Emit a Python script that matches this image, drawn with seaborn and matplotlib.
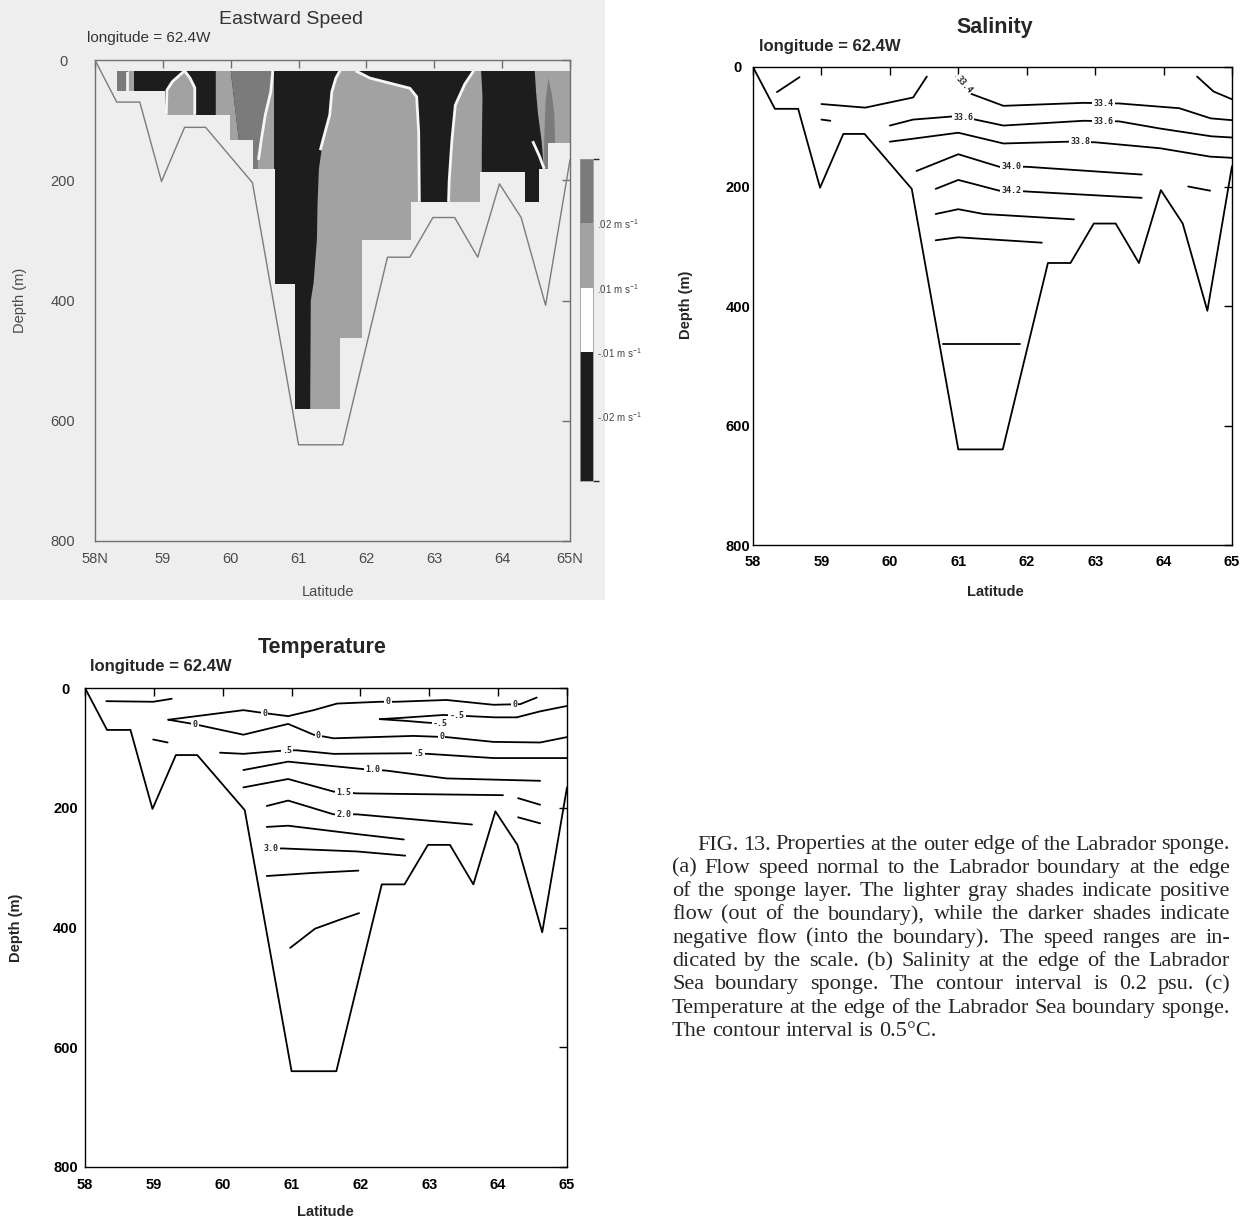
import numpy as np
import matplotlib
matplotlib.use("Agg")
import matplotlib.pyplot as plt
import seaborn as sns
from matplotlib.colors import ListedColormap, BoundaryNorm
from matplotlib.patches import Rectangle
import matplotlib.cm as cm

# ----------------------------------------------------------------- data
lat_ticks = [58, 59, 60, 61, 62, 63, 64, 65]
lat_labels_a = ["58N", "59", "60", "61", "62", "63", "64", "65N"]
lat_labels_bc = ["58", "59", "60", "61", "62", "63", "64", "65"]
depth_ticks = [0, 200, 400, 600, 800]

# bottom topography along the section
topo_lat = [58.0, 58.32, 58.66, 58.98, 59.32, 59.63, 60.32, 61.0, 61.65, 62.31,
            62.64, 62.98, 63.30, 63.64, 63.96, 64.28, 64.64, 65.0]
topo_depth = [0, 70, 70, 202, 112, 112, 204, 640, 640, 328,
              328, 262, 262, 328, 206, 262, 408, 166]

# model grid (staircase) that bounds the speed field
grid_top = 18
step_lat = [58.32, 59.03, 59.99, 60.33, 60.65, 60.95, 61.61, 61.93, 62.66,
            63.67, 64.33, 64.55, 64.68, 65.0]
step_bottom = [52, 91, 133, 181, 372, 580, 463, 299, 236, 186, 236, 181, 138]

# speed classes (m/s) and colour scale
speed_bounds = [-0.03, -0.02, -0.01, 0.01, 0.02, 0.03]
speed_colors = ["#1d1d1d", "#1d1d1d", "#ffffff", "#a2a2a2", "#7b7b7b"]
speed_ticklabels = ["-.02 m s$^{-1}$", "-.01 m s$^{-1}$", ".01 m s$^{-1}$", ".02 m s$^{-1}$"]
background_speed = -0.025          # the field is mostly inflow

# regions of outflow: (speed, lat, depth)
speed_regions = [
    (0.025, [58.32, 58.46, 58.46, 58.32], [18, 18, 60, 60]),
    (0.015, [58.48, 58.58, 58.58, 58.48], [18, 18, 60, 60]),
    (0.015, [59.32, 59.40, 59.47, 59.48, 59.02, 59.06, 59.14], [18, 30, 46, 100, 100, 50, 36]),
    (0.015, [59.78, 60.00, 60.12, 60.12, 59.78], [18, 18, 133, 140, 140]),
    (0.015, [60.33, 60.64, 60.64, 60.33], [18, 18, 190, 190]),
    (0.025, [60.00, 60.61, 60.58, 60.50, 60.44, 60.40, 60.40, 60.12, 60.12],
            [18, 18, 53, 91, 133, 166, 190, 190, 133]),
    (0.015, [61.60, 61.85, 62.05, 62.64, 62.74, 62.77, 62.77, 61.17, 61.18, 61.22,
             61.27, 61.28, 61.30, 61.36, 61.46, 61.49, 61.55],
            [18, 18, 30, 47, 61, 120, 600, 600, 400, 372, 299, 236, 181, 133, 91, 53, 30]),
    (0.015, [63.58, 63.69, 63.71, 63.70, 63.70, 63.20, 63.21, 63.26, 63.31, 63.45],
            [18, 18, 60, 150, 260, 260, 200, 133, 75, 40]),
    (0.015, [64.48, 65.0, 65.0, 64.63, 64.58, 64.53, 64.50], [18, 18, 200, 200, 133, 91, 53]),
    (0.025, [64.68, 64.73, 64.77, 64.78, 64.78, 64.62, 64.62, 64.64],
            [30, 55, 91, 133, 200, 200, 133, 70]),
]
# narrow |u| < .01 bands (white lines) in panel (a)
speed_zero_lines = [
    ([58.47, 58.47], [18, 52]),
    ([59.05, 59.06, 59.14, 59.32, 59.40, 59.47, 59.47], [91, 50, 36, 18, 30, 46, 91]),
    ([60.62, 60.59, 60.51, 60.45, 60.41], [18, 53, 91, 133, 166]),
    ([61.84, 62.05, 62.64, 62.74, 62.77, 62.78], [18, 30, 47, 61, 120, 236]),
    ([61.61, 61.55, 61.49, 61.46, 61.36, 61.32], [18, 30, 53, 91, 133, 150]),
    ([63.58, 63.45, 63.31, 63.26, 63.22, 63.21], [18, 40, 75, 133, 200, 236]),
    ([64.45, 64.55, 64.62], [135, 160, 181]),
]

# salinity isohalines (psu): level, lat, depth, label latitudes
salinity_lines = [
    ("33.2", [58.35, 58.68], [42, 17], []),
    ("33.4", [59.0, 59.64, 60.34, 60.54], [62, 68, 51, 16], []),
    ("33.4", [60.97, 61.08, 61.19, 61.66, 62.83, 63.35, 64.23, 64.69, 65.0],
             [17, 30, 45, 65, 60, 61, 69, 86, 89], [61.08, 63.12]),
    ("33.2", [64.49, 64.73, 65.0], [16, 41, 54], []),
    ("33.6", [59.0, 59.13], [88, 90], []),
    ("33.6", [60.0, 60.34, 61.0, 61.66, 62.83, 63.35, 63.95, 64.7, 65.0],
             [98, 88, 82, 98, 90, 91, 103, 116, 118], [61.07, 63.12]),
    ("33.8", [60.0, 60.34, 61.0, 61.66, 62.6, 63.0, 63.95, 64.68, 65.0],
             [125, 120, 110, 128, 125, 126, 136, 150, 152], [62.78]),
    ("34.0", [60.39, 61.0, 61.6, 62.0, 63.68], [174, 146, 167, 167, 180], [61.78]),
    ("34.2", [60.67, 61.0, 61.6, 61.94, 63.68], [204, 189, 207, 208, 219], [61.78]),
    ("34.4", [60.67, 61.0, 61.37, 62.69], [246, 238, 246, 255], []),
    ("34.6", [60.67, 61.0, 62.22], [290, 285, 294], []),
    ("34.2", [64.36, 64.68], [200, 207], []),
    ("34.8", [60.78, 61.90], [463, 463], []),
]

# temperature isotherms (deg C)
temperature_lines = [
    ("0", [58.31, 58.99, 59.26], [22, 23, 18], []),
    ("0", [59.21, 60.30, 60.61, 60.95, 61.32, 61.66, 62.28, 62.52, 63.25, 63.93, 64.32, 64.56],
          [53, 37, 42, 47, 37, 26, 23, 23, 20, 28, 27, 16], [60.61, 62.40, 64.24]),
    ("0", [59.21, 59.57, 60.30, 60.95, 61.32, 61.61, 62.77, 63.25, 63.93, 64.61, 65.0],
          [53, 60, 78, 60, 78, 84, 80, 82, 90, 91, 82], [59.60, 61.39, 63.18]),
    ("-.5", [62.28, 62.58, 63.21, 63.95, 64.27, 64.61, 65.0], [52, 50, 45, 49, 49, 39, 30], [63.40]),
    ("-.5", [62.28, 62.67, 62.98, 63.25], [52, 55, 58, 59], [63.16]),
    ("0", [58.99, 59.20], [86, 91], []),
    (".5", [59.96, 60.30, 60.83, 61.07, 61.61, 62.72, 62.98, 63.93, 65.0],
           [108, 110, 105, 104, 110, 109, 110, 117, 117], [60.93, 62.84]),
    ("1.0", [60.30, 60.95, 62.09, 62.38, 63.25, 64.61], [137, 123, 136, 138, 151, 155], [62.18]),
    ("1.5", [60.30, 60.95, 61.61, 61.95, 64.07], [166, 152, 173, 176, 179], [61.76]),
    ("2.0", [60.64, 60.95, 61.61, 61.95, 63.62], [197, 188, 211, 211, 228], [61.76]),
    ("2.5", [60.64, 60.95, 61.95, 62.63], [232, 230, 244, 253], []),
    ("3.0", [60.64, 60.88, 61.95, 62.65], [268, 268, 273, 280], [60.70]),
    ("3.5", [60.64, 61.29, 61.97], [314, 309, 305], []),
    ("4.0", [60.98, 61.34, 61.70, 61.98], [434, 402, 387, 376], []),
    ("1.5", [64.29, 64.61], [184, 195], []),
    ("2.0", [64.29, 64.61], [216, 226], []),
]

caption_lines = [
    "FIG. 13. Properties at the outer edge of the Labrador sponge.",
    "(a) Flow speed normal to the Labrador boundary at the edge",
    "of the sponge layer. The lighter gray shades indicate positive",
    "flow (out of the boundary), while the darker shades indicate",
    "negative flow (into the boundary). The speed ranges are in-",
    "dicated by the scale. (b) Salinity at the edge of the Labrador",
    "Sea boundary sponge. The contour interval is 0.2 psu. (c)",
    "Temperature at the edge of the Labrador Sea boundary sponge.",
    "The contour interval is 0.5\u00b0C.",
]

# ----------------------------------------------------------------- style
sns.set_theme(style="white")
plt.rcParams["font.family"] = ["Liberation Sans", "DejaVu Sans"]
plt.rcParams["mathtext.default"] = "regular"

W, H = 1256, 1222
fig = plt.figure(figsize=(W / 100, H / 100), dpi=100, facecolor="white")


def box(l, t, r, b):
    return [l / W, 1 - b / H, (r - l) / W, (b - t) / H]


def ftext(px, py, s, **kw):
    kw.setdefault("ha", "center")
    kw.setdefault("va", "center")
    return fig.text(px / W, 1 - py / H, s, **kw)


# grey scanned background of panel (a)
fig.patches.append(Rectangle((0, 1 - 600 / H), 605 / W, 600 / H, transform=fig.transFigure,
                             facecolor="#eeeeee", edgecolor="none", zorder=-10))

axA = fig.add_axes(box(95, 60, 570, 541))
axB = fig.add_axes(box(753, 67, 1232, 545))
axC = fig.add_axes(box(85, 688, 567, 1167))
cax = fig.add_axes(box(580, 159, 593, 481))


def style_axes(ax, xlabels, color, weight, ypad, xpad, spine_color, bg):
    ax.set_facecolor(bg)
    ax.set_xlim(58, 65)
    ax.set_ylim(800, 0)
    ax.set_xticks(lat_ticks)
    ax.set_xticklabels(xlabels)
    ax.set_yticks(depth_ticks)
    ax.set_yticklabels([str(v) for v in depth_ticks])
    ax.tick_params(axis="both", direction="in", length=6, width=1.0, top=True, right=True,
                   color=spine_color, labelcolor=color, labelsize=10.5)
    ax.tick_params(axis="y", pad=ypad)
    ax.tick_params(axis="x", pad=xpad)
    for lab in ax.get_yticklabels():
        lab.set_ha("center")
        lab.set_fontweight(weight)
    for lab in ax.get_xticklabels():
        lab.set_fontweight(weight)
    for sp in ax.spines.values():
        sp.set_visible(True)
        sp.set_color(spine_color)
        sp.set_linewidth(1.0)
    ax.set_xlabel("")
    ax.set_ylabel("")
    ax.grid(False)


style_axes(axA, lat_labels_a, "#4a4a4a", "normal", 23, 8, "#6f6f6f", "#eeeeee")
style_axes(axB, lat_labels_bc, "black", "bold", 11, 7, "black", "white")
style_axes(axC, lat_labels_bc, "black", "bold", 14, 8, "black", "white")

# ------------------------------------------------------------ panel (a)
cmap = ListedColormap(speed_colors)
norm = BoundaryNorm(speed_bounds, cmap.N)

step_y = step_bottom + [step_bottom[-1]]
base = axA.fill_between(step_lat, grid_top, step_y, step="post",
                        color=cmap(norm(background_speed)), lw=0, zorder=1)
clip_path = base.get_paths()[0]

for val, lats, deps in speed_regions:
    patches = axA.fill(lats, deps, color=cmap(norm(val)), lw=0, zorder=2)
    for p in patches:
        p.set_clip_path(clip_path, axA.transData)

for lats, deps in speed_zero_lines:
    ln, = axA.plot(lats, deps, color="#f6f6f6", lw=2.0, zorder=3, solid_capstyle="butt")
    ln.set_clip_path(clip_path, axA.transData)

sns.lineplot(x=topo_lat, y=topo_depth, ax=axA, sort=False, estimator=None,
             color="#7c7c7c", lw=1.0, legend=False, zorder=4)

cb = fig.colorbar(cm.ScalarMappable(norm=norm, cmap=cmap), cax=cax,
                  ticks=speed_bounds[1:-1], spacing="uniform")
cb.ax.set_yticklabels(speed_ticklabels)
cb.ax.tick_params(length=0, pad=3, labelsize=7, labelcolor="#444444")
cb.outline.set_edgecolor("#9a9a9a")
cb.outline.set_linewidth(0.6)
axA.set_xlim(58, 65)
axA.set_ylim(800, 0)

# ------------------------------------------------------------ panels (b),(c)


def draw_isolines(ax, lines):
    fig.canvas.draw()
    for level, lats, deps, lab_lats in lines:
        sns.lineplot(x=lats, y=deps, ax=ax, sort=False, estimator=None,
                     color="black", lw=1.3, legend=False, zorder=3)
        for ll in lab_lats:
            d = np.interp(ll, lats, deps)
            p1 = ax.transData.transform((ll - 0.04, np.interp(ll - 0.04, lats, deps)))
            p2 = ax.transData.transform((ll + 0.04, np.interp(ll + 0.04, lats, deps)))
            ang = np.degrees(np.arctan2(p2[1] - p1[1], p2[0] - p1[0]))
            if abs(ang) < 20:
                ang = 0
            ax.text(ll, d, level, ha="center", va="center", rotation=ang,
                    family="DejaVu Sans Mono", fontsize=6, fontweight="bold", zorder=5,
                    bbox=dict(boxstyle="square,pad=0.15", fc="white", ec="none"))
    sns.lineplot(x=topo_lat, y=topo_depth, ax=ax, sort=False, estimator=None,
                 color="black", lw=1.3, legend=False, zorder=4)
    ax.set_xlim(58, 65)
    ax.set_ylim(800, 0)
    ax.set_xlabel("")
    ax.set_ylabel("")


draw_isolines(axB, salinity_lines)
draw_isolines(axC, temperature_lines)

# ------------------------------------------------------------ texts
ftext(291, 20, "Eastward Speed", fontsize=14, color="#333333")
ftext(87, 38, "longitude = 62.4W", ha="left", fontsize=11, color="#333333")
ftext(20, 300, "Depth (m)", rotation=90, fontsize=10.5, color="#4a4a4a")
ftext(328, 592, "Latitude", fontsize=10.5, color="#4a4a4a")

ftext(995, 27, "Salinity", fontsize=15.5, fontweight="bold")
ftext(759, 47, "longitude = 62.4W", ha="left", fontsize=12, fontweight="bold")
ftext(686, 305, "Depth (m)", rotation=90, fontsize=10.5, fontweight="bold")
ftext(995, 592, "Latitude", fontsize=10.5, fontweight="bold")

ftext(322, 647, "Temperature", fontsize=15.5, fontweight="bold")
ftext(90, 667, "longitude = 62.4W", ha="left", fontsize=12, fontweight="bold")
ftext(16, 928, "Depth (m)", rotation=90, fontsize=10.5, fontweight="bold")
ftext(325, 1212, "Latitude", fontsize=10.5, fontweight="bold")

# caption, justified
renderer = fig.canvas.get_renderer()
cap_size = 16
x_right = 1230
for i, line in enumerate(caption_lines):
    y = 845 + 23.3 * i
    x0 = 697 if i == 0 else 672
    words = line.split(" ")
    ts = [ftext(0, y, w, ha="left", fontsize=cap_size, family="Liberation Serif") for w in words]
    widths = [t.get_window_extent(renderer).width for t in ts]
    if i < len(caption_lines) - 1 and len(words) > 1:
        gap = (x_right - x0 - sum(widths)) / (len(words) - 1)
    else:
        gap = renderer.points_to_pixels(cap_size) * 0.25
    x = x0
    for t, w in zip(ts, widths):
        t.set_x(x / W)
        x += w + gap

fig.savefig("out.png", dpi=100)
